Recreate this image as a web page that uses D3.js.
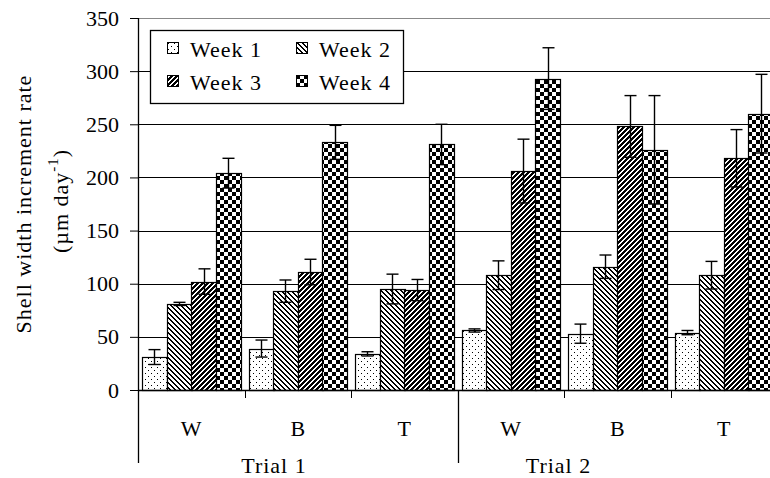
<!DOCTYPE html>
<html>
<head>
<meta charset="utf-8">
<script src="https://cdn.jsdelivr.net/npm/d3@7"></script>
<style>
  body { margin: 0; background: #fff; }
  text { font-family: "Liberation Serif", "Times New Roman", serif; fill: #000; }
</style>
</head>
<body>
<div id="chart"></div>
<script>
// data (order: Trial 1 W, B, T, Trial 2 W, B, T)
var trials = ["Trial 1", "Trial 2"];
var sites = ["W", "B", "T"];
var weeks = ["Week 1", "Week 2", "Week 3", "Week 4"];

var week1 = [31, 39, 34, 56, 53, 54];
var week2 = [81, 93, 95, 108, 116, 108];
var week3 = [102, 111, 94, 206, 248, 218];
var week4 = [204, 233, 231, 293, 226, 260];

var week1Err = [7, 8, 2, 1.5, 9, 2];
var week2Err = [1.5, 10.5, 14, 13.5, 11, 13];
var week3Err = [12, 12, 10, 30, 29, 27];
var week4Err = [14, 16, 19, 29, 51, 37];

var yTicks = [0, 50, 100, 150, 200, 250, 300, 350];

// pixel pattern helper: list of [x,y] black pixels in a tile
function pixelPattern(defs, id, size, pix){
    var p = defs.append("pattern").attr("id", id)
                .attr("patternUnits", "userSpaceOnUse")
                .attr("width", size).attr("height", size);
    p.append("rect").attr("width", size).attr("height", size).attr("fill", "#fff");
    p.selectAll("rect.px")
     .data(pix)
     .enter()
     .append("rect")
     .attr("class", "px")
     .attr("x", function(d){ return d[0]; })
     .attr("y", function(d){ return d[1]; })
     .attr("width", 1).attr("height", 1)
     .attr("fill", "#000")
     .attr("shape-rendering", "crispEdges");
}

// diagonal stripes: thick = black pixels per row, dir 1 = "\" , -1 = "/"
function stripes(size, thick, dir){
    var out = [];
    for(var r=0;r<size;r++){
        for(var k=0;k<thick;k++){
            var x = dir > 0 ? (r + k) % size : ((size - 1 - r + k) % size + size) % size;
            out.push([x, r]);
        }
    }
    return out;
}

function init(){

    var w = 770;
    var h = 478;

    var svg = d3.select("#chart")
                .append("svg")
                .attr("width", w)
                .attr("height", h);

    var defs = svg.append("defs");

    // week 1: sparse staggered dots
    pixelPattern(defs, "pat1", 6, [[1,1],[4,4]]);
    // week 2: "\" lines
    pixelPattern(defs, "pat2", 5, stripes(5, 2, 1));
    // week 3: heavier "/" lines
    pixelPattern(defs, "pat3", 5, stripes(5, 3, -1));

    // week 4: checkerboard
    var d4 = [];
    for(var i=0;i<4;i++){
        for(var j=0;j<4;j++){ d4.push([i, j]); d4.push([i + 4, j + 4]); }
    }
    pixelPattern(defs, "pat4", 8, d4);

    var fills = ["url(#pat1)", "url(#pat2)", "url(#pat3)", "url(#pat4)"];
    var series = [week1, week2, week3, week4];
    var errs = [week1Err, week2Err, week3Err, week4Err];

    var cats = [];
    trials.forEach(function(t){
        sites.forEach(function(s){ cats.push(t + "|" + s); });
    });

    var left = 138, right = 777, top = 18, base = 390, axisBottom = 463;

    var x0 = d3.scaleBand().domain(cats).range([left, right]);
    var x1 = d3.scaleBand().domain(weeks).range([0, x0.bandwidth()]).paddingOuter(0.17);
    var y = d3.scaleLinear().domain([0, 350]).range([base, top]);

    // gridlines
    svg.append("g")
       .selectAll("line")
       .data(yTicks.filter(function(d){ return d > 0; }))
       .enter()
       .append("line")
       .attr("x1", left).attr("x2", right)
       .attr("y1", function(d){ return Math.round(y(d)) + 0.5; })
       .attr("y2", function(d){ return Math.round(y(d)) + 0.5; })
       .attr("stroke", function(d){ return d === 350 ? "#888" : "#000"; })
       .attr("stroke-width", 1);

    var bars = [];
    weeks.forEach(function(wk, i){
        cats.forEach(function(c, j){
            bars.push({cat: c, week: wk, i: i, v: series[i][j], e: errs[i][j]});
        });
    });

    svg.append("g")
       .selectAll("rect")
       .data(bars)
       .enter()
       .append("rect")
       .attr("x", function(d){ return Math.round(x0(d.cat) + x1(d.week)) + 0.5; })
       .attr("y", function(d){ return Math.round(y(d.v)) + 0.5; })
       .attr("width", Math.round(x1.bandwidth()))
       .attr("height", function(d){ return base - Math.round(y(d.v)); })
       .attr("fill", function(d){ return fills[d.i]; })
       .attr("stroke", "#000")
       .attr("stroke-width", 1.2);

    // error bars
    var eb = svg.append("g")
                .selectAll("g")
                .data(bars)
                .enter()
                .append("g")
                .attr("stroke", "#000")
                .attr("stroke-width", 1.4);
    var cap = 6;
    function cx(d){ return Math.round(x0(d.cat) + x1(d.week) + x1.bandwidth() / 2) + 0.5; }
    eb.append("line")
      .attr("x1", cx).attr("x2", cx)
      .attr("y1", function(d){ return y(d.v + d.e); })
      .attr("y2", function(d){ return y(d.v - d.e); });
    eb.append("line")
      .attr("x1", function(d){ return cx(d) - cap; })
      .attr("x2", function(d){ return cx(d) + cap; })
      .attr("y1", function(d){ return y(d.v + d.e); })
      .attr("y2", function(d){ return y(d.v + d.e); });
    eb.append("line")
      .attr("x1", function(d){ return cx(d) - cap; })
      .attr("x2", function(d){ return cx(d) + cap; })
      .attr("y1", function(d){ return y(d.v - d.e); })
      .attr("y2", function(d){ return y(d.v - d.e); });

    // y axis
    var yAxis = svg.append("g")
                   .attr("transform", "translate(" + left + ",0)")
                   .call(d3.axisLeft(y).tickValues(yTicks).tickSize(8).tickPadding(11));
    yAxis.select(".domain").remove();
    yAxis.selectAll(".tick line").attr("stroke", "#000");
    yAxis.selectAll("text")
         .attr("fill", "#000")
         .style("font-size", "22px")
         .style("font-family", "'Liberation Serif', serif");

    svg.append("line")
       .attr("x1", left + 0.5).attr("x2", left + 0.5)
       .attr("y1", top).attr("y2", axisBottom)
       .attr("stroke", "#000").attr("stroke-width", 1.3);

    // x axis line
    svg.append("line")
       .attr("x1", left).attr("x2", right)
       .attr("y1", base + 0.5).attr("y2", base + 0.5)
       .attr("stroke", "#000").attr("stroke-width", 1.3);

    // separators between categories
    svg.append("g")
       .selectAll("line")
       .data(cats.slice(1))
       .enter()
       .append("line")
       .attr("x1", function(d){ return Math.round(x0(d)) + 0.5; })
       .attr("x2", function(d){ return Math.round(x0(d)) + 0.5; })
       .attr("y1", base)
       .attr("y2", function(d){ return d.split("|")[1] === sites[0] ? axisBottom : base + 8; })
       .attr("stroke", "#000")
       .attr("stroke-width", function(d){ return d.split("|")[1] === sites[0] ? 1.3 : 1; });

    // category labels
    svg.append("g")
       .selectAll("text")
       .data(cats)
       .enter()
       .append("text")
       .attr("x", function(d){ return x0(d) + x0.bandwidth() / 2; })
       .attr("y", 436)
       .attr("text-anchor", "middle")
       .style("font-size", "22px")
       .text(function(d){ return d.split("|")[1]; });

    // trial labels (offset as in the original)
    var trialX = [x0(cats[0]) + 136, x0(cats[3]) + 101];
    svg.append("g")
       .selectAll("text")
       .data(trials)
       .enter()
       .append("text")
       .attr("x", function(d, i){ return trialX[i]; })
       .attr("y", 473)
       .attr("text-anchor", "middle")
       .style("font-size", "22px")
       .style("letter-spacing", "1px")
       .text(function(d){ return d; });

    // y axis title
    svg.append("text")
       .attr("transform", "translate(31,204) rotate(-90)")
       .attr("text-anchor", "middle")
       .style("font-size", "22px")
       .style("letter-spacing", "1px")
       .text("Shell width increment rate");

    var t2 = svg.append("text")
                .attr("transform", "translate(68,201) rotate(-90)")
                .attr("text-anchor", "middle")
                .style("font-size", "22px")
                .style("letter-spacing", "1px");
    t2.append("tspan").text("(\u00b5m day");
    t2.append("tspan").attr("dy", -10).style("font-size", "15px").text("-1");
    t2.append("tspan").attr("dy", 10).text(")");

    // legend
    var lg = svg.append("g");
    lg.append("rect")
      .attr("x", 150.5).attr("y", 30.5)
      .attr("width", 253).attr("height", 73)
      .attr("fill", "#fff")
      .attr("stroke", "#000")
      .attr("stroke-width", 1.3);

    var items = lg.selectAll("g.item")
                  .data(weeks)
                  .enter()
                  .append("g")
                  .attr("class", "item")
                  .attr("transform", function(d, i){
                      return "translate(" + (167 + (i % 2) * 129) + "," + (42 + Math.floor(i / 2) * 33) + ")";
                  });
    items.append("rect")
         .attr("x", 0.5).attr("y", 0.5)
         .attr("width", 11).attr("height", 11)
         .attr("fill", function(d, i){ return fills[i]; })
         .attr("stroke", "#000")
         .attr("stroke-width", 1);
    items.append("text")
         .attr("x", 23)
         .attr("y", 15)
         .style("font-size", "22px")
         .style("letter-spacing", "1px")
         .text(function(d){ return d; });
}

window.onload = init;
</script>
</body>
</html>
